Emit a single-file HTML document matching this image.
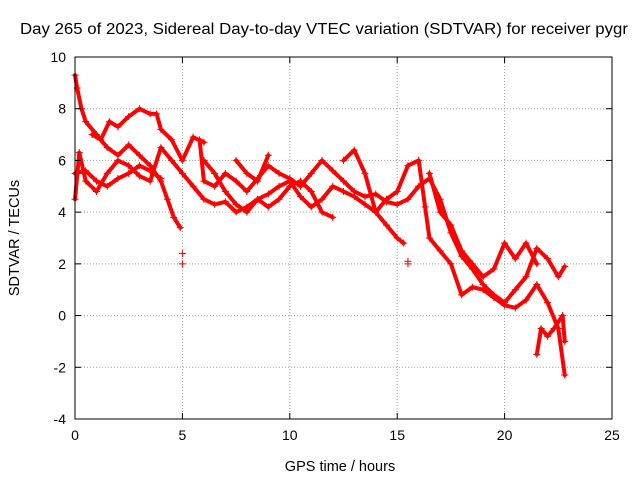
<!DOCTYPE html>
<html><head><meta charset="utf-8"><style>
html,body{margin:0;padding:0;background:#fff;}
svg{display:block;font-family:"Liberation Sans",sans-serif;}
</style></head><body>
<svg id="chart" width="640" height="480" viewBox="0 0 640 480">
<rect width="640" height="480" fill="#fff"/>
<text x="20" y="34" textLength="608" lengthAdjust="spacingAndGlyphs" font-size="15.5">Day 265 of 2023, Sidereal Day-to-day VTEC variation (SDTVAR) for receiver pygr</text>
<text x="340" y="471" text-anchor="middle" font-size="14.5">GPS time / hours</text>
<text transform="translate(19,238) rotate(-90)" text-anchor="middle" font-size="14.5">SDTVAR / TECUs</text>
<g id="grid"></g><g id="series"></g><g id="axes"></g>
</svg>
<script>
const xTicks=[0,5,10,15,20,25];
const yTicks=[-4,-2,0,2,4,6,8,10];
const track1=[[0,9.3],[0.1,8.8],[0.3,8],[0.5,7.5],[1,7],[1.5,6.5],[2,6.2],[2.5,6.6],[3,6.2],[3.5,5.8],[4,5.2],[4.3,4.5],[4.6,3.8],[4.9,3.4]];
const track2=[[0,5.5],[0.5,5.6],[1,5.2],[1.5,5],[2,5.3],[2.5,5.5],[3,5.8],[3.5,5.6],[4,5.3]];
const track3=[[0.8,7],[1.2,6.8],[1.6,7.5],[2,7.3],[2.5,7.7],[3,8],[3.5,7.8],[3.8,7.8],[4,7.2],[4.5,6.8],[5,6],[5.5,6.9],[6,6.7]];
const track4=[[0,4.5],[0.2,6.3],[0.5,5.2],[1,4.8],[1.5,5.5],[2,6],[2.5,5.8],[3,5.4],[3.5,5.2],[4,6.5],[4.5,6],[5,5.5],[5.5,5],[6,4.5],[6.5,4.3],[7,4.4],[7.5,4],[8,4.2],[8.5,4.5],[9,4.7],[9.5,5],[10,5.2],[10.5,4.6],[11,4.2],[11.5,4.5],[12,5],[12.5,4.8],[13,4.6],[13.5,4.3],[14,4],[14.5,3.5],[15,3],[15.3,2.8]];
const track5=[[5.8,6.8],[6,5.2],[6.5,5],[7,5.5],[7.5,5.2],[8,4.8],[8.5,5.3],[9,5.8],[9.5,5.5],[10,5.3],[10.5,5],[11,5.5],[11.5,6],[12,5.6],[12.5,5.2],[13,4.8],[13.5,4.6],[14,4.7],[14.5,4.4],[15,4.3],[15.5,4.5],[16,5],[16.5,5.3],[17,4.5],[17.5,3.2],[18,2.3],[18.5,1.8],[19,1.2],[19.5,0.8],[20,0.5],[20.5,1],[21,1.5],[21.5,2.6],[22,2.2],[22.5,1.5],[22.8,1.9]];
const track6=[[6,6],[6.5,5.5],[7,4.8],[7.5,4.3],[8,4],[8.5,4.5],[9,4.2],[9.5,4.5],[10,5],[10.5,5.2],[11,4.8],[11.5,4],[12,3.8]];
const track7=[[7.5,6],[8,5.5],[8.5,5.2],[9,6.2]];
const track8=[[12.5,6],[13,6.4],[13.5,5.5],[14,4],[14.5,4.5],[15,4.8],[15.5,5.8],[16,6],[16.3,4.2],[16.5,3],[17,2.5],[17.5,2],[18,0.8],[18.5,1.1],[19,1],[19.5,0.7],[20,0.4],[20.5,0.3],[21,0.6],[21.5,1.2],[22,0.5],[22.5,-0.5],[22.8,-2.3]];
const track9=[[16.5,5.5],[17,4],[17.5,3.5],[18,2.5],[18.5,2],[19,1.5],[19.5,1.8],[20,2.8],[20.5,2.2],[21,2.8],[21.5,2]];
const track10=[[21.5,-1.5],[21.7,-0.5],[22,-0.8],[22.3,-0.5],[22.7,0],[22.8,-1]];
const isolated=[[5,2],[5,2.4],[15.5,2],[15.5,2.1]];
const tracks=[track1,track2,track3,track4,track5,track6,track7,track8,track9,track10];

const L=75,R=612,T=57,B=419,xMin=0,xMax=25,yMin=-4,yMax=10;
const sx=v=>L+(v-xMin)/(xMax-xMin)*(R-L);
const sy=v=>B-(v-yMin)/(yMax-yMin)*(B-T);
const NS="http://www.w3.org/2000/svg";
function mk(tag,parent,attrs){const e=document.createElementNS(NS,tag);for(const k in attrs)e.setAttribute(k,attrs[k]);parent.appendChild(e);return e;}
const grid=document.getElementById('grid'),axes=document.getElementById('axes'),ser=document.getElementById('series');
xTicks.forEach(t=>{const x=sx(t);
 if(t>xMin&&t<xMax){const g=mk('line',grid,{x1:x,x2:x,y1:T,y2:B,stroke:'#a0a0a0','stroke-dasharray':'1,2'});
 
 }
 mk('line',axes,{x1:x,x2:x,y1:B,y2:B-6,stroke:'#000'});mk('line',axes,{x1:x,x2:x,y1:T,y2:T+6,stroke:'#000'});
 const tx=mk('text',axes,{x:x,y:B+21,'text-anchor':'middle','font-size':'14'});tx.textContent=t;
 
 
});
yTicks.forEach(t=>{const y=sy(t);
 if(t>yMin&&t<yMax){const g=mk('line',grid,{x1:L,x2:R,y1:y,y2:y,stroke:'#a0a0a0','stroke-dasharray':'1,2'});
 
 }
 mk('line',axes,{x1:L,x2:L+6,y1:y,y2:y,stroke:'#000'});mk('line',axes,{x1:R,x2:R-6,y1:y,y2:y,stroke:'#000'});
 const tx=mk('text',axes,{x:L-9,y:y+5,'text-anchor':'end','font-size':'14'});tx.textContent=t;
 
 
});
const frame=mk('rect',axes,{x:L,y:T,width:R-L,height:B-T,fill:'none',stroke:'#000'});


function plus(g,x,y){mk('path',g,{d:`M${x-3.5},${y}h7M${x},${y-3.5}v7`,stroke:'#f00','stroke-width':1});}
tracks.forEach((tr,i)=>{
 const g=mk('g',ser,{});
 
 
 mk('polyline',g,{points:tr.map(p=>sx(p[0])+','+sy(p[1])).join(' '),fill:'none',stroke:'#f00','stroke-width':4,'stroke-linejoin':'round','stroke-linecap':'round'});
 tr.forEach(p=>plus(g,sx(p[0]),sy(p[1])));
});
const gi=mk('g',ser,{});


isolated.forEach(p=>plus(gi,sx(p[0]),sy(p[1])));
</script>
</body></html>
